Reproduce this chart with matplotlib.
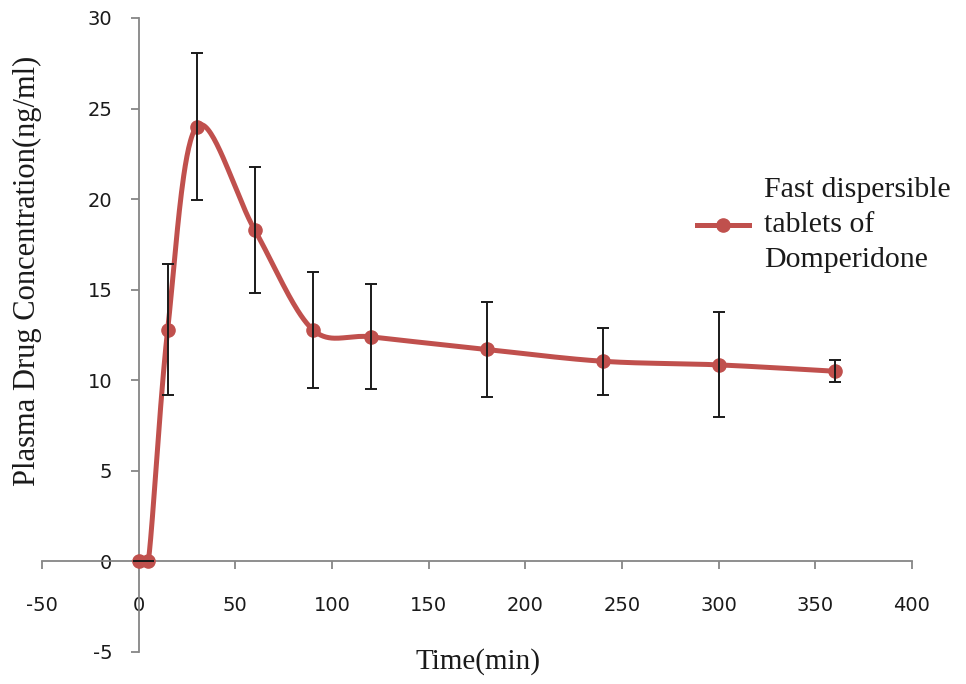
import numpy as np
import matplotlib.pyplot as plt
from matplotlib.lines import Line2D

plt.rcParams["axes.unicode_minus"] = False

# -------------------------------
# Data
# -------------------------------
time_min = [0, 5, 15, 30, 60, 90, 120, 180, 240, 300, 360]
conc = [0, 0, 12.8, 24.0, 18.3, 12.8, 12.4, 11.7, 11.05, 10.85, 10.5]
conc_err = [0, 0, 3.6, 4.05, 3.5, 3.2, 2.9, 2.6, 1.85, 2.9, 0.6]
series_label = "Fast dispersible\ntablets of\nDomperidone"

line_color = "#C0504D"
axis_color = "#868686"
text_color = "#1a1a1a"


# -------------------------------
# Excel-like smoothed line (Bezier through points, screen-scaled space)
# control arms are clamped so short segments do not overshoot
# -------------------------------
def smooth_curve(x, y, sx, sy, n=40):
    P = np.column_stack([np.asarray(x, float) * sx, np.asarray(y, float) * sy])
    out = []
    for i in range(len(P) - 1):
        p0 = P[i - 1] if i > 0 else P[i]
        p1 = P[i]
        p2 = P[i + 1]
        p3 = P[i + 2] if i + 2 < len(P) else P[i + 1]
        seg_len = np.linalg.norm(p2 - p1)
        a1 = (p2 - p0) / 6.0
        a2 = (p3 - p1) / 6.0
        for a in (a1, a2):
            la = np.linalg.norm(a)
            if la > seg_len / 2.5:
                a *= (seg_len / 2.5) / la
        c1 = p1 + a1
        c2 = p2 - a2
        t = np.linspace(0, 1, n)[:, None]
        seg = ((1 - t) ** 3) * p1 + 3 * ((1 - t) ** 2) * t * c1 + 3 * (1 - t) * t ** 2 * c2 + t ** 3 * p2
        out.append(seg if i == 0 else seg[1:])
    out = np.vstack(out)
    return out[:, 0] / sx, out[:, 1] / sy


fig = plt.figure(figsize=(9.66, 6.84), dpi=100)
ax = fig.add_axes([0.0435, 0.0468, 0.9005, 0.9269])

ax.set_xlim(-50, 400)
ax.set_ylim(-5, 30)

# pixel per unit, used only for the smoothing shape
sx = 870 / 450
sy = 634 / 35
xs, ys = smooth_curve(time_min, conc, sx, sy)
ax.plot(xs, ys, color=line_color, lw=3.6, solid_capstyle="round", zorder=3)
ax.plot(time_min, conc, "o", color=line_color, ms=9.5, zorder=4)
ax.errorbar(time_min, conc, yerr=conc_err, fmt="none", ecolor=text_color,
            elinewidth=1.4, capsize=4, capthick=1.4, zorder=5)

# axes crossing at the origin
for s in ["top", "right"]:
    ax.spines[s].set_visible(False)
ax.spines["left"].set_position(("data", 0))
ax.spines["bottom"].set_position(("data", 0))
for s in ["left", "bottom"]:
    ax.spines[s].set_color(axis_color)
    ax.spines[s].set_linewidth(1.3)

ax.set_xticks(np.arange(-50, 401, 50))
ax.set_yticks(np.arange(-5, 31, 5))
ax.tick_params(axis="both", direction="out", length=6, width=1.3, color=axis_color,
               labelsize=14, labelcolor=text_color)
ax.tick_params(axis="x", pad=19)
ax.tick_params(axis="y", pad=13)

serif = "Liberation Serif"
fig.text(0.028, 1 - 271 / 684, "Plasma Drug Concentration(ng/ml)", rotation=90,
         ha="center", va="center", fontsize=22, family=serif, color=text_color)
fig.text(478 / 966, 1 - 662 / 684, "Time(min)", ha="center", va="center",
         fontsize=21, family=serif, color=text_color)

handle = Line2D([], [], color=line_color, lw=3.6, marker="o", ms=9.5)
leg = ax.legend([handle], [series_label], loc="center left",
                bbox_to_anchor=(697 / 966, 1 - 225 / 684), bbox_transform=fig.transFigure,
                frameon=False, borderpad=0, borderaxespad=0,
                handlelength=1.75, handletextpad=0.5,
                prop={"family": serif, "size": 21.5})
for t in leg.get_texts():
    t.set_color(text_color)
    t.set_linespacing(1.45)

fig.savefig("out.png", dpi=100)
